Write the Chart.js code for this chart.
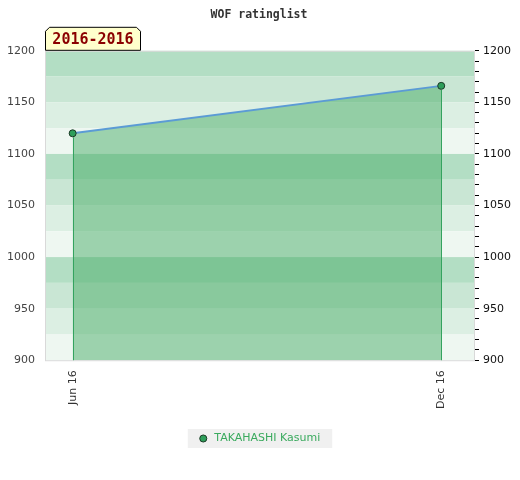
<!DOCTYPE html>
<html>
<head>
<meta charset="utf-8">
<script src="https://cdn.jsdelivr.net/npm/chart.js@4/dist/chart.umd.min.js"></script>
<style>
  html, body { margin: 0; padding: 0; background: #fff; }
  #wrap { width: 520px; height: 480px; }
</style>
</head>
<body>
<div id="wrap"><canvas id="grafico"></canvas></div>
<script>
// data
var months = ['Jun 16', 'Dec 16'];
var monthIndex = [0, 6];
var ratings = [1120, 1166];
var playerName = 'TAKAHASHI Kasumi';
var periodText = '2016-2016';
var chartTitle = 'WOF ratinglist';

var bandColors = ['#b3dec4', '#c9e6d4', '#dcefe3', '#eef7f1'];

var points = [];
for (var i = 0; i < ratings.length; i++) {
    points.push({ x: monthIndex[i], y: ratings[i] });
}

// stripes behind the line + frame
var bandsPlugin = {
    id: 'bands',
    beforeDatasetsDraw: function(chart) {
        var ctx = chart.ctx;
        var area = chart.chartArea;
        var y = chart.scales.y;
        var k = 0;
        ctx.save();
        for (var v = y.max; v > y.min; v -= 25) {
            var top = y.getPixelForValue(v);
            var bot = y.getPixelForValue(v - 25);
            ctx.fillStyle = bandColors[k % 4];
            ctx.fillRect(area.left, top, area.right - area.left, bot - top);
            k++;
        }
        ctx.strokeStyle = '#d9d9d9';
        ctx.lineWidth = 1;
        ctx.strokeRect(area.left + 0.5, area.top + 0.5, area.right - area.left - 1, area.bottom - area.top);
        ctx.restore();
    },
    afterDatasetsDraw: function(chart) {
        var ctx = chart.ctx;
        var meta = chart.getDatasetMeta(0);
        var bottom = chart.chartArea.bottom;
        ctx.save();
        ctx.strokeStyle = '#34a35f';
        ctx.lineWidth = 1;
        meta.data.forEach(function(p) {
            ctx.beginPath();
            ctx.moveTo(Math.round(p.x) + 0.5, p.y + 4);
            ctx.lineTo(Math.round(p.x) + 0.5, bottom);
            ctx.stroke();
        });
        ctx.restore();
    },
    beforeDraw: function(chart) {
        var lg = chart.legend;
        if (!lg || !lg.legendHitBoxes || !lg.legendHitBoxes.length) return;
        var b = lg.legendHitBoxes[0];
        var ctx = chart.ctx;
        ctx.save();
        ctx.fillStyle = '#f0f0f0';
        ctx.fillRect(b.left - 10, b.top - 4, b.width + 22, b.height + 8);
        ctx.restore();
    },
    afterDraw: function(chart) {
        var ctx = chart.ctx;
        var area = chart.chartArea;
        var x0 = area.left + 0.5, x1 = area.left + 95.5;
        var y0 = area.top - 23.5, y1 = area.top - 0.5;
        ctx.save();
        ctx.beginPath();
        ctx.moveTo(x0, y1);
        ctx.lineTo(x0, y0 + 4);
        ctx.lineTo(x0 + 4, y0);
        ctx.lineTo(x1 - 4, y0);
        ctx.lineTo(x1, y0 + 4);
        ctx.lineTo(x1, y1);
        ctx.closePath();
        ctx.fillStyle = '#ffffcc';
        ctx.fill();
        ctx.strokeStyle = '#000';
        ctx.lineWidth = 1;
        ctx.stroke();
        ctx.fillStyle = '#8b0000';
        ctx.font = 'bold 15px "DejaVu Sans Mono"';
        ctx.textAlign = 'center';
        ctx.textBaseline = 'middle';
        ctx.fillText(periodText, (x0 + x1) / 2, (y0 + y1) / 2 + 1);
        ctx.restore();
    }
};

var canvas = document.getElementById('grafico');
var chart = new Chart(canvas, {
    type: 'line',
    data: {
        datasets: [{
            label: playerName,
            data: points,
            borderColor: '#5b9bd5',
            borderWidth: 2,
            backgroundColor: 'rgba(66,170,98,0.48)',
            fill: 'start',
            tension: 0,
            pointRadius: 3.5,
            pointBackgroundColor: '#2e9e5a',
            pointBorderColor: '#1c3a26',
            pointBorderWidth: 1,
            pointStyle: 'circle'
        }]
    },
    options: {
        responsive: true,
        maintainAspectRatio: false,
        animation: false,
        layout: { padding: { left: 7, right: 9, top: 0, bottom: 26 } },
        scales: {
            x: {
                type: 'linear',
                min: -0.45,
                max: 6.55,
                afterBuildTicks: function(axis) {
                    axis.ticks = monthIndex.map(function(m) { return { value: m }; });
                },
                afterFit: function(axis) { axis.height += 6; },
                ticks: {
                    autoSkip: false,
                    maxRotation: 90,
                    minRotation: 90,
                    padding: 4,
                    color: '#333',
                    font: { family: 'DejaVu Sans', size: 11 },
                    callback: function(v) {
                        var idx = monthIndex.indexOf(v);
                        return idx >= 0 ? months[idx] : '';
                    }
                },
                grid: { display: false, drawTicks: true, tickLength: 6 },
                border: { display: false }
            },
            y: {
                position: 'left',
                min: 900,
                max: 1200,
                afterFit: function(axis) { axis.width = 38; },
                ticks: {
                    stepSize: 50,
                    padding: 10,
                    color: '#444',
                    font: { family: 'DejaVu Sans', size: 11 },
                    callback: function(v) { return String(v); }
                },
                grid: { display: false, drawTicks: false },
                border: { display: false }
            },
            y1: {
                position: 'right',
                min: 900,
                max: 1200,
                afterFit: function(axis) { axis.width = 36; },
                ticks: {
                    stepSize: 10,
                    autoSkip: false,
                    padding: 4,
                    color: '#111',
                    font: { family: 'DejaVu Sans', size: 11 },
                    callback: function(v) { return v % 50 === 0 ? String(v) : ''; }
                },
                grid: { drawOnChartArea: false, color: '#000', tickLength: 4, lineWidth: 1 },
                border: { display: false }
            }
        },
        plugins: {
            title: {
                display: true,
                text: chartTitle,
                color: '#333',
                font: { family: 'DejaVu Sans Mono', size: 11.5, weight: 'bold' },
                padding: { top: 8, bottom: 29 }
            },
            legend: {
                position: 'bottom',
                labels: {
                    usePointStyle: true,
                    boxWidth: 11,
                    boxHeight: 5,
                    color: '#3aaa5e',
                    padding: 14,
                    font: { family: 'DejaVu Sans', size: 11 }
                }
            },
            tooltip: { enabled: false }
        }
    },
    plugins: [bandsPlugin]
});
</script>
</body>
</html>
